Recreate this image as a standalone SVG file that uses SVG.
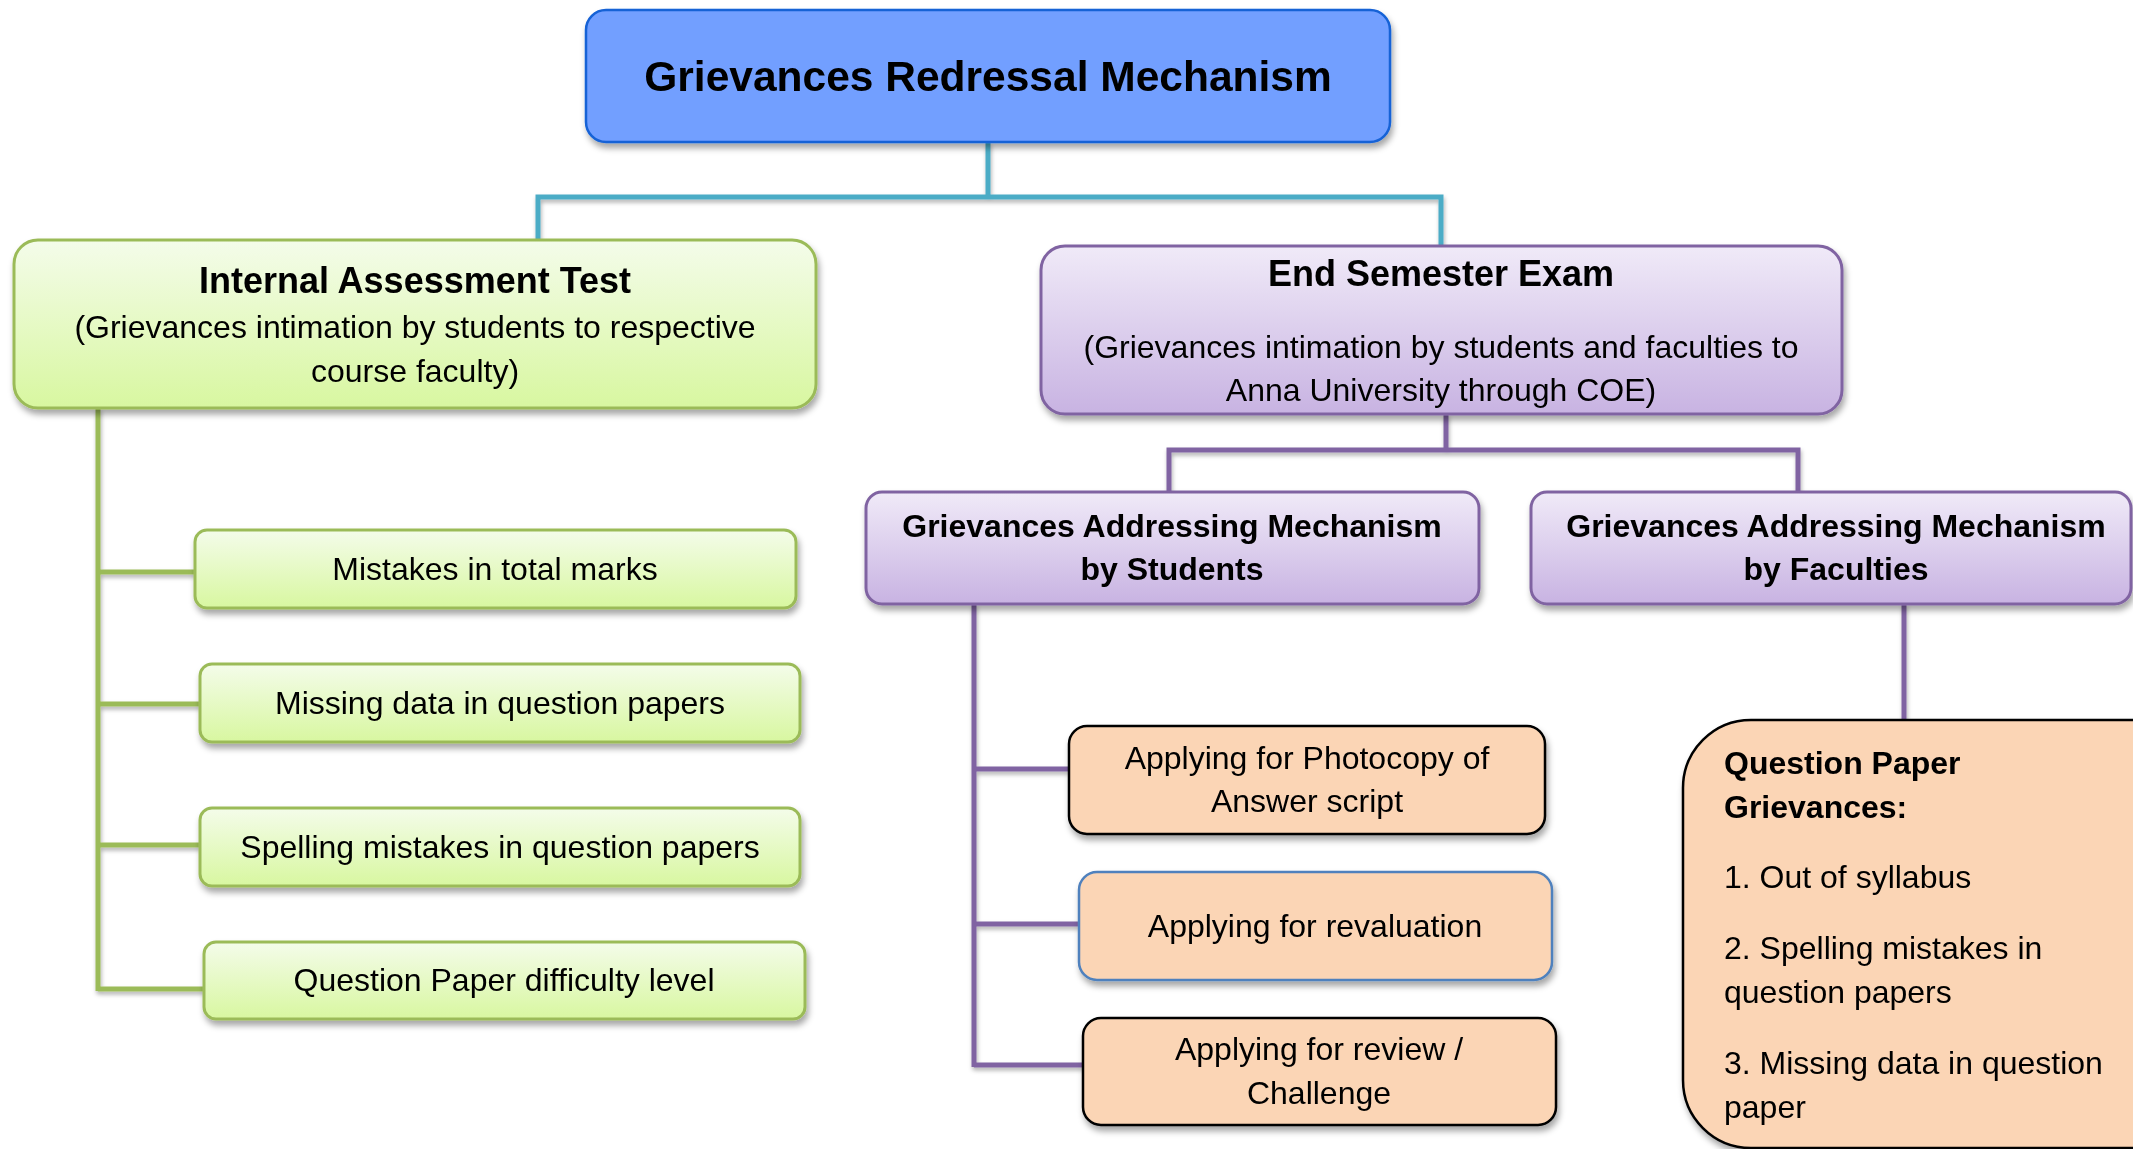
<svg xmlns="http://www.w3.org/2000/svg" width="2133" height="1149" viewBox="0 0 2133 1149">
<defs>
<linearGradient id="gGreen" x1="0" y1="0" x2="0" y2="1">
<stop offset="0" stop-color="#F4FCEA"/>
<stop offset="1" stop-color="#D8F7A0"/>
</linearGradient>
<linearGradient id="gPurple" x1="0" y1="0" x2="0" y2="1">
<stop offset="0" stop-color="#F0EAF8"/>
<stop offset="1" stop-color="#C8B3E2"/>
</linearGradient>
<filter id="sh" x="-10%" y="-10%" width="120%" height="130%">
<feDropShadow dx="2" dy="5" stdDeviation="3" flood-color="#000" flood-opacity="0.35"/>
</filter>
<filter id="lsh" x="-10%" y="-10%" width="120%" height="130%">
<feDropShadow dx="1" dy="3" stdDeviation="2" flood-color="#000" flood-opacity="0.3"/>
</filter>
</defs>
<style>
text{font-family:"Liberation Sans",Arial,sans-serif;fill:#000}
.b{font-weight:bold}
.c{text-anchor:middle}
.t42{font-size:42.5px}
.t36{font-size:36px}
.t32{font-size:32px}
.green{fill:url(#gGreen);stroke:#9BBB59;stroke-width:3}
.purple{fill:url(#gPurple);stroke:#8064A2;stroke-width:3}
.orange{fill:#FBD5B5;stroke:#000;stroke-width:2.5}
.orange.blue{stroke:#4F81BD}
.lt{fill:none;stroke:#4BACC6;stroke-width:5}
.lg{fill:none;stroke:#9BBB59;stroke-width:5}
.lp{fill:none;stroke:#8064A2;stroke-width:5}
</style>
<g id="connectors" filter="url(#lsh)">
<path class="lt" d="M988 142 V197 M538 240 V197 H1441 V246"/>
<path class="lg" d="M98 408 V991 M98 572 H195 M98 704 H200 M98 845 H200 M98 989 H204"/>
<path class="lp" d="M1446 414 V450 M1169 492 V450 H1798 V492"/>
<path class="lp" d="M974 604 V1067 M974 769 H1069 M974 924 H1079 M974 1065 H1083"/>
<path class="lp" d="M1904 604 V720"/>
</g>
<g id="root" filter="url(#sh)">
<rect x="586" y="10" width="804" height="132" rx="20" fill="#729FFF" stroke="#1562D6" stroke-width="2.5"/>
<text class="b c t42" x="988" y="91">Grievances Redressal Mechanism</text>
</g>
<g id="iat" filter="url(#sh)">
<rect class="green" x="14" y="240" width="802" height="168" rx="24"/>
<text class="b c t36" x="415" y="293">Internal Assessment Test</text>
<text class="c t32" x="415" y="338">(Grievances intimation by students to respective</text>
<text class="c t32" x="415" y="382">course faculty)</text>
</g>
<g id="ese" filter="url(#sh)">
<rect class="purple" x="1041" y="246" width="801" height="168" rx="24"/>
<text class="b c t36" x="1441" y="286">End Semester Exam</text>
<text class="c t32" x="1441" y="358">(Grievances intimation by students and faculties to</text>
<text class="c t32" x="1441" y="401">Anna University through COE)</text>
</g>
<g id="iat1" filter="url(#sh)">
<rect class="green" x="195" y="530" width="601" height="78" rx="12"/>
<text class="c t32" x="495" y="580">Mistakes in total marks</text>
</g>
<g id="iat2" filter="url(#sh)">
<rect class="green" x="200" y="664" width="600" height="78" rx="12"/>
<text class="c t32" x="500" y="714">Missing data in question papers</text>
</g>
<g id="iat3" filter="url(#sh)">
<rect class="green" x="200" y="808" width="600" height="78" rx="12"/>
<text class="c t32" x="500" y="858">Spelling mistakes in question papers</text>
</g>
<g id="iat4" filter="url(#sh)">
<rect class="green" x="204" y="942" width="601" height="77" rx="12"/>
<text class="c t32" x="504" y="991">Question Paper difficulty level</text>
</g>
<g id="gams" filter="url(#sh)">
<rect class="purple" x="866" y="492" width="613" height="112" rx="16"/>
<text class="b c t32" x="1172" y="537">Grievances Addressing Mechanism</text>
<text class="b c t32" x="1172" y="580">by Students</text>
</g>
<g id="gamf" filter="url(#sh)">
<rect class="purple" x="1531" y="492" width="600" height="112" rx="16"/>
<text class="b c t32" x="1836" y="537">Grievances Addressing Mechanism</text>
<text class="b c t32" x="1836" y="580">by Faculties</text>
</g>
<g id="photocopy" filter="url(#sh)">
<rect class="orange" x="1069" y="726" width="476" height="108" rx="18"/>
<text class="c t32" x="1307" y="769">Applying for Photocopy of</text>
<text class="c t32" x="1307" y="812">Answer script</text>
</g>
<g id="revaluation" filter="url(#sh)">
<rect class="orange blue" x="1079" y="872" width="473" height="108" rx="18"/>
<text class="c t32" x="1315" y="937">Applying for revaluation</text>
</g>
<g id="review" filter="url(#sh)">
<rect class="orange" x="1083" y="1018" width="473" height="107" rx="18"/>
<text class="c t32" x="1319" y="1060">Applying for review /</text>
<text class="c t32" x="1319" y="1104">Challenge</text>
</g>
<g id="qpg" filter="url(#sh)">
<rect class="orange" x="1683" y="720" width="520" height="428" rx="68"/>
<text class="b t32" x="1724" y="774">Question Paper</text>
<text class="b t32" x="1724" y="818">Grievances:</text>
<text class="t32" x="1724" y="888">1. Out of syllabus</text>
<text class="t32" x="1724" y="959">2. Spelling mistakes in</text>
<text class="t32" x="1724" y="1003">question papers</text>
<text class="t32" x="1724" y="1074">3. Missing data in question</text>
<text class="t32" x="1724" y="1118">paper</text>
</g>
</svg>
